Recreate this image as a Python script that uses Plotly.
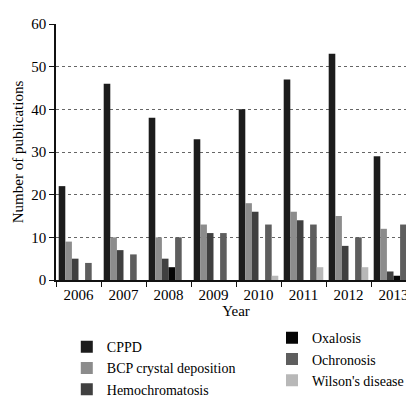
import plotly.graph_objects as go

years = ["2006", "2007", "2008", "2009", "2010", "2011", "2012", "2013"]

cppd = [22, 46, 38, 33, 40, 47, 53, 29]
bcp = [9, 10, 10, 13, 18, 16, 15, 12]
hemochromatosis = [5, 7, 5, 11, 16, 14, 8, 2]
oxalosis = [0, 0, 3, 0, 0, 0, 0, 1]
ochronosis = [4, 6, 10, 11, 13, 13, 10, 13]
wilson = [0, 0, 0, 0, 1, 3, 3, 1]

series = [
    ("CPPD", cppd, "#1c1c1c", "legend", 1),
    ("BCP crystal deposition", bcp, "#8c8c8c", "legend", 2),
    ("Hemochromatosis", hemochromatosis, "#404040", "legend", 3),
    ("Oxalosis", oxalosis, "#050505", "legend2", 4),
    ("Ochronosis", ochronosis, "#5e5e5e", "legend2", 5),
    ("Wilson's disease", wilson, "#b8b8b8", "legend2", 6),
]

fig = go.Figure()
for name, vals, color, leg, rank in series:
    fig.add_trace(go.Bar(x=years, y=vals, name=name, marker_color=color,
                         marker_line_width=0, legend=leg, legendrank=rank))

serif = "Liberation Serif"

fig.update_layout(
    template="plotly_white",
    width=414, height=403,
    margin=dict(l=48, r=6, t=16, b=108),
    barmode="group", bargap=0.12, bargroupgap=0.0,
    font=dict(family=serif, size=14, color="#000"),
    plot_bgcolor="white", paper_bgcolor="white",
    legend=dict(x=0.03, y=-0.2, xanchor="left", yanchor="top",
                font=dict(family=serif, size=14, color="#000"),
                tracegroupgap=0, itemwidth=30),
    legend2=dict(x=0.6, y=-0.165, xanchor="left", yanchor="top",
                 font=dict(family=serif, size=14, color="#000"),
                 tracegroupgap=0, itemwidth=30),
)
fig.update_xaxes(
    title=dict(text="Year", font=dict(family=serif, size=15), standoff=4),
    showline=True, linecolor="#111", linewidth=1.5,
    ticks="outside", tickson="boundaries", ticklen=5, tickcolor="#111",
    showgrid=False, tickfont=dict(family=serif, size=15, color="#000"),
)
fig.update_yaxes(
    title=dict(text="Number of publications", font=dict(family=serif, size=15), standoff=4),
    range=[0, 60], dtick=10,
    showline=True, linecolor="#111", linewidth=1.5,
    ticks="outside", ticklen=5, tickcolor="#111",
    showgrid=True, gridcolor="#666", griddash="dot", gridwidth=1,
    zeroline=False,
    tickfont=dict(family=serif, size=15, color="#000"),
)

fig.write_html("out.html")
